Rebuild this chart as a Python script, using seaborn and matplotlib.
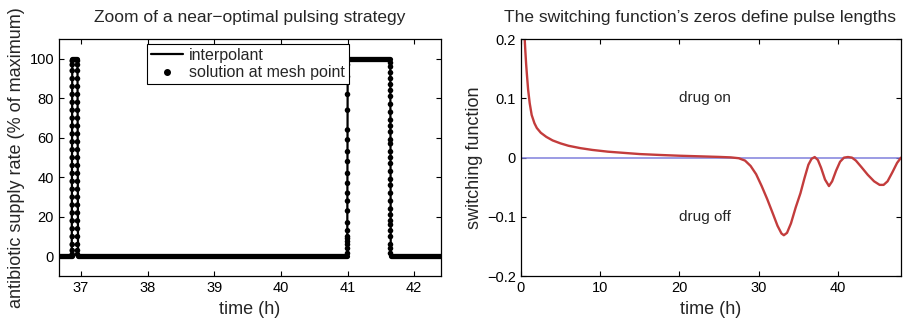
import numpy as np
import pandas as pd
import seaborn as sns
import matplotlib.pyplot as plt
from matplotlib.lines import Line2D

# left panel: control (interpolant breakpoints)
pulse_t = [36.67, 36.862, 36.870, 36.948, 36.956, 40.996, 41.003, 41.642, 41.649, 42.40]
pulse_u = [0, 0, 100, 100, 0, 0, 100, 100, 0, 0]

# stretches where the mesh is so dense the dots merge into a band
band_start = [36.67, 36.869, 36.955, 41.004, 41.650]
band_end = [36.861, 36.947, 40.995, 41.641, 42.40]
band_level = [0, 100, 0, 100, 0]

# mesh points read along the four steep edges
ramp_t = [36.869, 36.948, 41.000, 41.645]
rise1_u = [1, 3, 6, 10, 14, 18, 22, 26, 30, 34, 38, 42, 46, 50, 54, 58, 62, 66, 70, 74, 78, 82, 86, 90, 94, 97, 99]
fall1_u = [1, 3, 6, 10, 14, 18, 22, 26, 30, 34, 38, 42, 46, 50, 54, 58, 62, 66, 70, 74, 78, 82, 86, 90, 94, 97, 99]
rise2_u = [1.5, 4, 6, 7.5, 9, 10, 13, 17, 23, 28, 32, 37, 42, 48, 53, 59, 64, 74, 82, 91, 97]
fall2_u = [1.5, 4, 6, 10, 13, 16, 18, 21, 24, 28, 32, 36, 39, 43, 47, 50, 53, 57, 59, 63, 66, 69,
           73, 77, 81, 84, 87, 90, 93, 96, 98]

# right panel: switching function
switch_t = [0.47, 0.55, 0.65, 0.75, 0.9, 1.1, 1.35, 1.7, 2.0, 2.5, 3.2, 4.0, 5.0, 6.0, 7.5, 9.0,
            11.0, 13.0, 15.0, 17.5, 20.0, 22.5, 25.0, 26.5, 27.5, 28.3, 29.0, 29.7, 30.4, 31.1,
            31.8, 32.4, 32.9, 33.2, 33.6, 34.1, 34.7, 35.3, 35.8, 36.3, 36.7, 37.1, 37.5, 37.9,
            38.4, 38.9, 39.3, 39.8, 40.3, 40.8, 41.3, 41.8, 42.3, 43.0, 43.8, 44.6, 45.3, 45.8,
            46.3, 46.9, 47.5, 48.0]
switch_v = [0.200, 0.180, 0.158, 0.140, 0.115, 0.092, 0.072, 0.058, 0.050, 0.042, 0.035, 0.029,
            0.024, 0.020, 0.016, 0.013, 0.010, 0.008, 0.006, 0.0045, 0.0032, 0.0022, 0.0012,
            0.0004, -0.0010, -0.0050, -0.0140, -0.028, -0.048, -0.070, -0.094, -0.115, -0.128,
            -0.131, -0.127, -0.111, -0.084, -0.060, -0.035, -0.012, -0.002, 0.001, -0.004,
            -0.017, -0.037, -0.048, -0.040, -0.022, -0.007, 0.000, 0.001, 0.000, -0.005, -0.016,
            -0.029, -0.040, -0.046, -0.046, -0.040, -0.025, -0.009, 0.000]

left_xticks = [37, 38, 39, 40, 41, 42]
left_yticks = [0, 20, 40, 60, 80, 100]
right_xticks = [0, 10, 20, 30, 40]
right_yticks = [-0.2, -0.1, 0, 0.1, 0.2]
right_ylabels = ['\u22120.2', '\u22120.1', '0', '0.1', '0.2']

sns.set_style('ticks')
plt.rcParams['font.family'] = ['Liberation Sans', 'DejaVu Sans']
plt.rcParams['xtick.direction'] = 'in'
plt.rcParams['ytick.direction'] = 'in'

fig = plt.figure(figsize=(9.07, 3.26), dpi=100)
ax1 = fig.add_axes([0.065, 0.153, 0.421, 0.727])
ax2 = fig.add_axes([0.5744, 0.153, 0.419, 0.727])

# ---- left: zoom of the pulsing strategy
for s, e, lv in zip(band_start, band_end, band_level):
    seg = pd.DataFrame({'t': [s, e], 'u': [lv, lv]})
    sns.lineplot(data=seg, x='t', y='u', color='k', lw=3.8, solid_capstyle='round',
                 estimator=None, sort=False, ax=ax1)

pulse = pd.DataFrame({'t': pulse_t, 'u': pulse_u})
sns.lineplot(data=pulse, x='t', y='u', color='k', lw=1.6, estimator=None, sort=False, ax=ax1)

for t0, vals in zip(ramp_t, [rise1_u, fall1_u, rise2_u, fall2_u]):
    pts = pd.DataFrame({'t': [t0] * len(vals), 'u': vals})
    sns.scatterplot(data=pts, x='t', y='u', color='k', s=16, edgecolor='none', ax=ax1)

ax1.set_xlim(36.67, 42.40)
ax1.set_ylim(-10, 110)
ax1.set_xticks(left_xticks)
ax1.set_yticks(left_yticks)
ax1.set_xlabel('time (h)', fontsize=13, labelpad=4)
ax1.set_ylabel('antibiotic supply rate (% of maximum)', fontsize=13, labelpad=3)
ax1.set_title('Zoom of a near\u2212optimal pulsing strategy', fontsize=12.5, pad=12)

handles = [Line2D([], [], color='k', lw=1.6),
           Line2D([], [], ls='none', marker='o', color='k', ms=4)]
leg = ax1.legend(handles, ['interpolant', 'solution at mesh point'], loc='upper left',
                 bbox_to_anchor=(0.23, 0.98), borderaxespad=0, fontsize=11.5,
                 fancybox=False, framealpha=1, edgecolor='k', handlelength=2.0,
                 handletextpad=0.4, borderpad=0.25, labelspacing=0.15)
leg.get_frame().set_linewidth(0.8)

# ---- right: switching function
ax2.axhline(0, color='#8080dd', lw=1.1)
sw = pd.DataFrame({'t': switch_t, 'v': switch_v})
sns.lineplot(data=sw, x='t', y='v', color='#c33c3c', lw=1.7, estimator=None, sort=False, ax=ax2)
ax2.text(20, 0.1, 'drug on', fontsize=11, va='center', ha='left')
ax2.text(20, -0.1, 'drug off', fontsize=11, va='center', ha='left')

ax2.set_xlim(0, 48)
ax2.set_ylim(-0.2, 0.2)
ax2.set_xticks(right_xticks)
ax2.set_yticks(right_yticks)
ax2.set_yticklabels(right_ylabels)
ax2.set_xlabel('time (h)', fontsize=13, labelpad=4)
ax2.set_ylabel('switching function', fontsize=13, labelpad=3)
ax2.set_title('The switching function\u2019s zeros define pulse lengths', fontsize=12.5,
              pad=12, x=0.472)

for ax in (ax1, ax2):
    ax.tick_params(labelsize=10.5, length=3.5, width=0.8, top=True, right=True, colors='k')
    for sp in ax.spines.values():
        sp.set_visible(True)
        sp.set_linewidth(0.9)
        sp.set_color('k')

fig.savefig('out.png', dpi=100)
